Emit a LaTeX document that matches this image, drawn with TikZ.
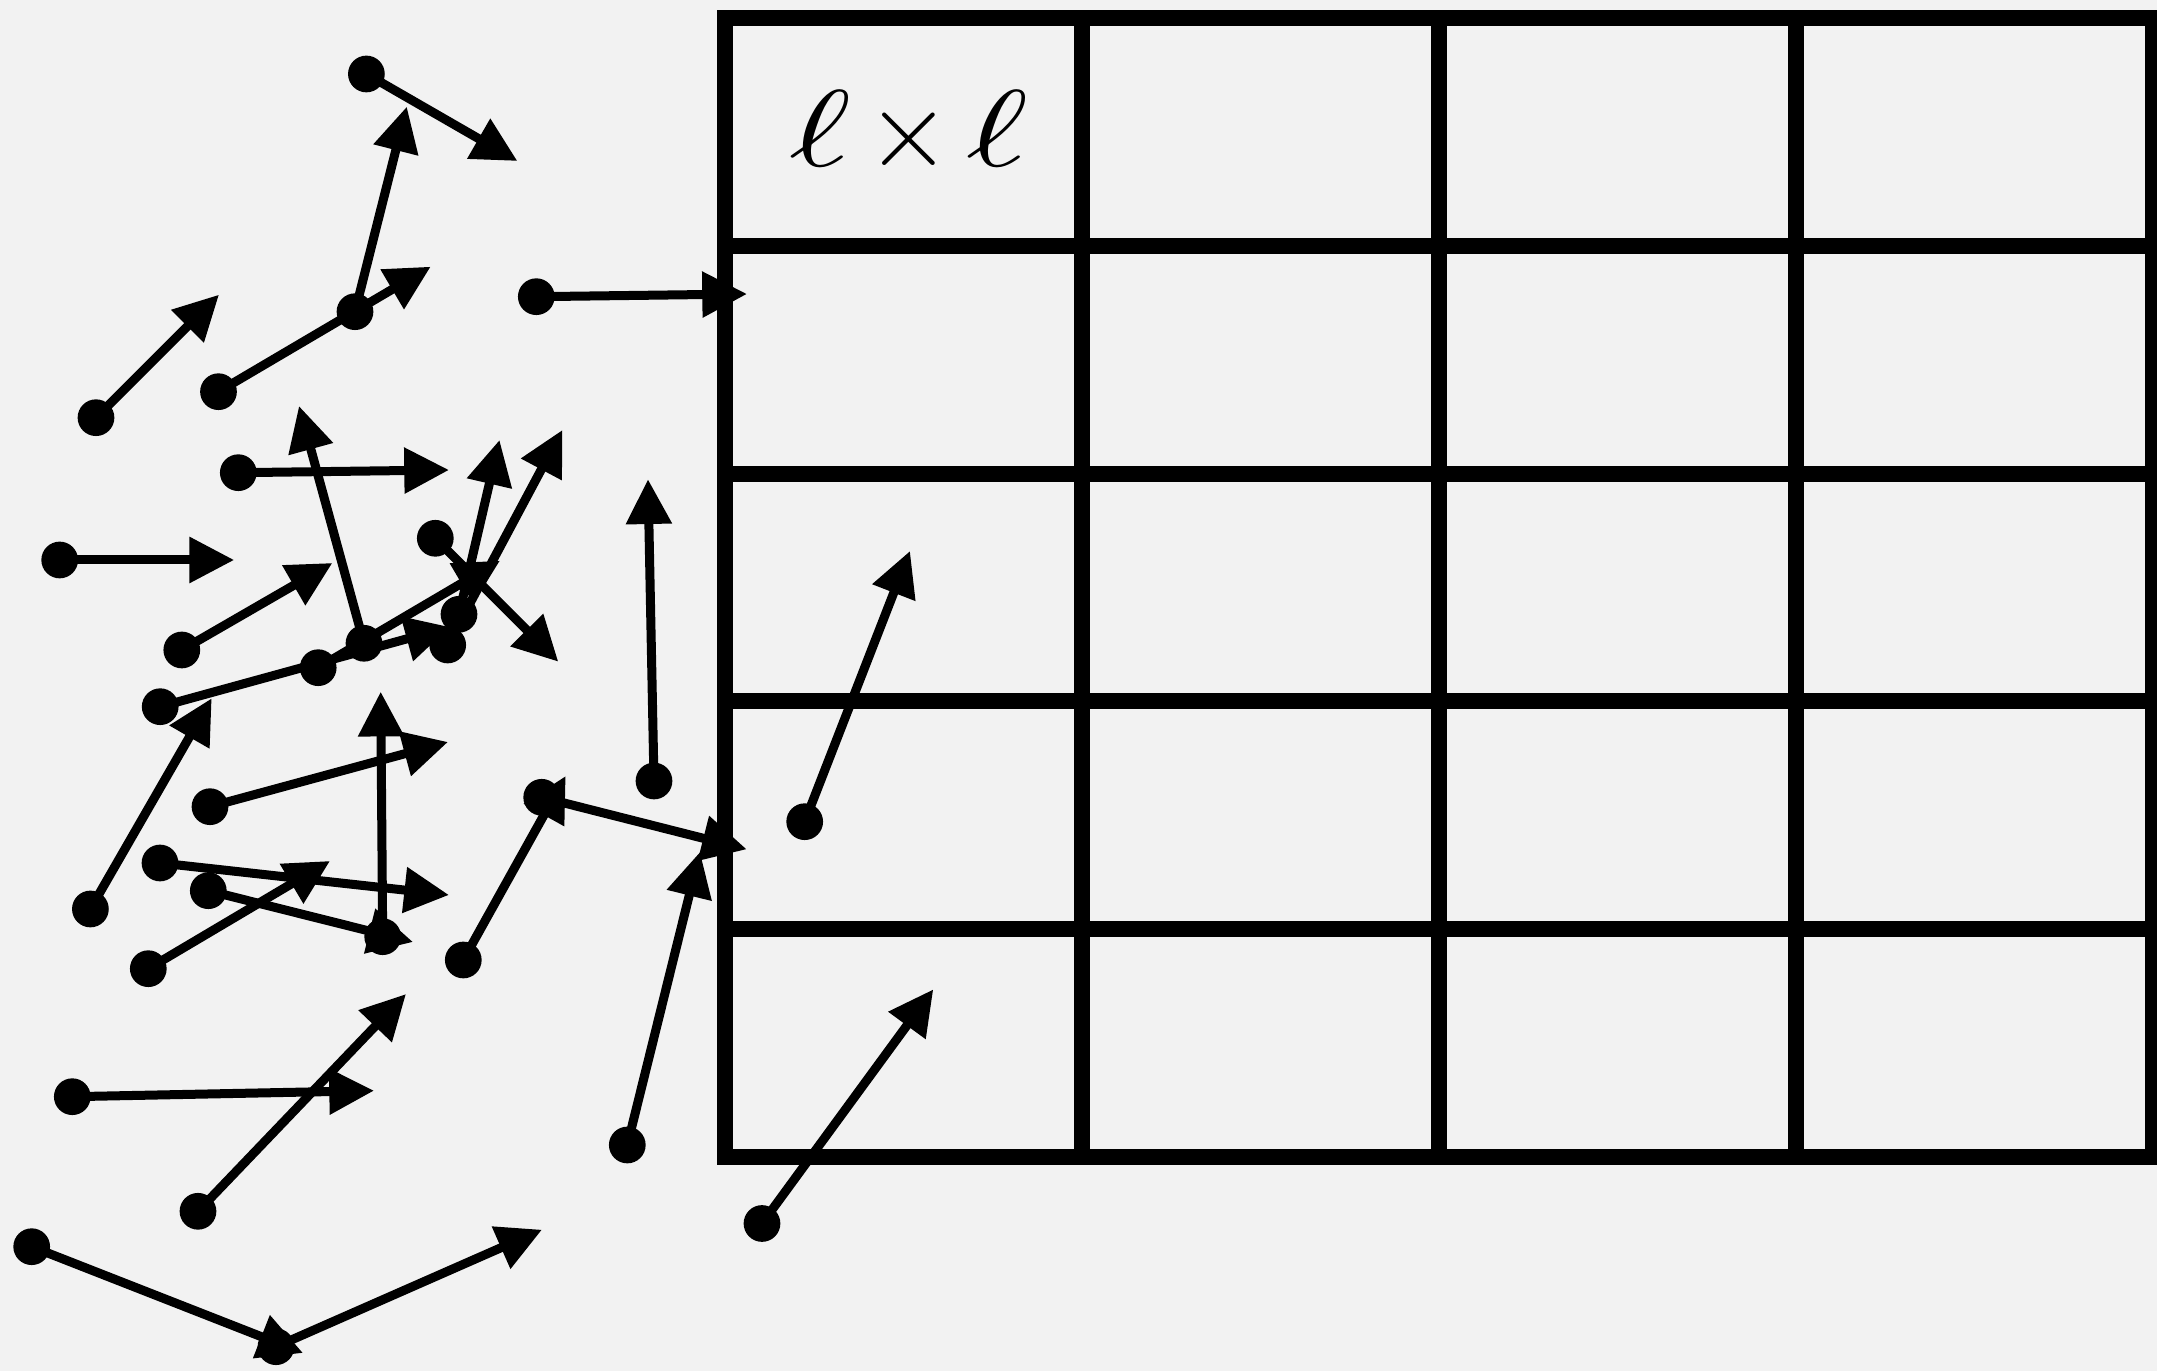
\documentclass[tikz,border=0pt]{standalone}
\usepackage{graphicx}
\usetikzlibrary{arrows.meta}
\definecolor{bgc}{RGB}{242,242,242}
\newcommand{\wideell}{\mathord{\scalebox{1.36}[1]{$\ell$}}}
\tikzset{
  dot/.style={circle,fill=black,inner sep=0pt,minimum size=0.367cm},
  vec/.style={line width=0.09cm,-{Triangle[length=0.447cm,width=0.44cm]}},
  gridline/.style={line width=0.16cm,line cap=rect},
}
\begin{document}
\begin{tikzpicture}[x=0.01cm,y=-0.01cm]
\useasboundingbox (0,0) rectangle (2157,1371);
\fill[bgc] (0,0) rectangle (2157,1371);
% grid
\foreach \yy in {18,245.8,473.6,701.4,929.2,1157}
  \draw[gridline] (725,\yy) -- (2153,\yy);
\foreach \xx in {725,1082,1439,1796,2153}
  \draw[gridline] (\xx,18) -- (\xx,1157);
\node[inner sep=0pt,scale=3.1] (lbl) at (909,133) {$\wideell\mkern2.5mu{\times}\mkern2.5mu\wideell$};
% vectors: start dot and tip
\foreach \i/\px/\py/\tx/\ty in {
  1/366.4/74/517.4/161,
  2/355/311.7/406.8/106.7,
  3/218.5/391.7/430.7/266.7,
  4/96/417.7/219/294.7,
  5/536.3/296.7/747/294,
  6/238.3/472.7/449/470,
  7/59.7/560/234.2/560,
  8/435.3/538.3/558.3/661.7,
  9/181.8/650/332.4/563,
  10/364/643.3/299/406,
  11/318.2/667.7/500/560.7,
  12/160.2/706.7/450/627,
  13/459/614.3/499.5/440,
  14/447.7/645/562.4/430,
  15/654/781/648/479.3,
  16/804.7/821.7/910/551,
  17/210/806.7/448/742,
  18/90.4/909/211.7/698.3,
  19/160/863/449/895,
  20/208.3/890.7/413/942,
  21/148.3/968.7/330/861,
  22/382.7/936.7/380.7/691.7,
  23/541.7/797.3/746.7/849.3,
  24/463.3/960/565.7/776,
  25/72.3/1096.7/374/1090.7,
  26/198/1211.3/406/994,
  27/627.3/1145/700/852,
  28/31.7/1246.7/303/1353,
  29/276/1346.7/542/1229.7,
  30/762/1223.5/933.3/989.4}
{
  \node[dot] (p\i) at (\px,\py) {};
  \coordinate (t\i) at (\tx,\ty);
  \draw[vec] (p\i.center) -- (t\i);
}
\end{tikzpicture}
\end{document}
